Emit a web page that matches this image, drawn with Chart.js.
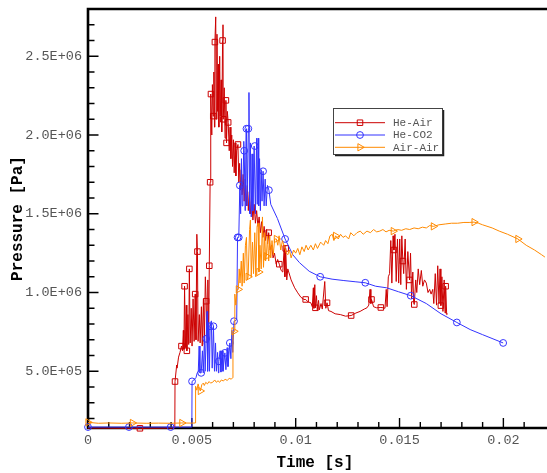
<!DOCTYPE html>
<html>
<head>
<meta charset="utf-8">
<title>Pressure history</title>
<script src="https://cdn.jsdelivr.net/npm/chart.js@4.4.1/dist/chart.umd.min.js"></script>
<style>
  html, body { margin: 0; padding: 0; background: #fff; }
  #wrap { width: 547px; height: 473px; position: relative; }
</style>
</head>
<body>
<div id="wrap"><canvas id="chart"></canvas></div>
<script>
// Pressure probe histories, [time s, pressure Pa]
const heAirPoints = [
  [0, 1.40e5], [0.00250, 1.38e5], [0.00418, 1.40e5], [0.00419, 4.35e5], [0.00427, 5.4e5],
  [0.00429, 5.2e5], [0.00436, 5.9e5], [0.00443, 6.2e5], [0.00450, 6.6e5], [0.00455, 6.3e5],
  [0.00459, 7.6e5], [0.00462, 6.4e5], [0.00465, 1.04e6], [0.00469, 6.5e5], [0.00473, 9.2e5],
  [0.00476, 6.3e5], [0.00481, 8.6e5], [0.00485, 6.7e5], [0.00488, 1.15e6], [0.00492, 6.8e5],
  [0.00497, 9.0e5], [0.00501, 6.6e5], [0.00506, 9.6e5], [0.00511, 6.9e5], [0.00516, 9.9e5],
  [0.00520, 7.0e5], [0.00524, 1.37e6], [0.00527, 1.26e6], [0.00530, 6.9e5], [0.00536, 8.6e5],
  [0.00540, 6.8e5], [0.00546, 9.1e5], [0.00550, 6.6e5], [0.00556, 9.6e5], [0.00560, 6.7e5],
  [0.00565, 1.10e6], [0.00569, 9.45e5], [0.00573, 6.8e5], [0.00577, 1.08e6], [0.00581, 7.0e5],
  [0.00584, 1.17e6], [0.00588, 1.70e6], [0.00590, 2.05e6], [0.00592, 2.26e6], [0.00596, 2.00e6],
  [0.00599, 2.32e6], [0.00603, 2.12e6], [0.00606, 2.40e6], [0.00609, 2.05e6], [0.00611, 2.59e6],
  [0.00615, 2.75e6], [0.00618, 2.10e6], [0.00621, 2.64e6], [0.00624, 2.15e6], [0.00627, 2.45e6],
  [0.00630, 2.05e6], [0.00634, 2.50e6], [0.00637, 2.12e6], [0.00641, 2.35e6], [0.00644, 2.02e6],
  [0.00648, 2.60e6], [0.00650, 2.70e6], [0.00651, 2.10e6], [0.00656, 2.30e6], [0.00660, 1.98e6],
  [0.00664, 2.22e6], [0.00667, 1.95e6], [0.00671, 2.15e6], [0.00675, 2.08e6], [0.00680, 1.90e6],
  [0.00684, 2.05e6], [0.00688, 1.85e6], [0.00692, 2.00e6], [0.00696, 1.80e6], [0.00700, 1.97e6],
  [0.00704, 1.76e6], [0.00708, 1.95e6], [0.00712, 1.74e6], [0.00716, 1.90e6], [0.00722, 1.94e6],
  [0.00726, 1.70e6], [0.00730, 1.82e6], [0.00734, 1.65e6], [0.00738, 1.78e6], [0.00742, 1.62e6],
  [0.00747, 1.75e6], [0.00752, 1.58e6], [0.00757, 1.72e6], [0.00762, 1.55e6], [0.00767, 1.68e6],
  [0.00772, 1.52e6], [0.00777, 1.64e6], [0.00782, 1.50e6], [0.00788, 1.60e6], [0.00794, 1.46e6],
  [0.00800, 1.56e6], [0.00806, 1.44e6], [0.00812, 1.52e6], [0.00818, 1.42e6], [0.00824, 1.48e6],
  [0.00830, 1.38e6], [0.00836, 1.45e6], [0.00842, 1.35e6], [0.00848, 1.42e6], [0.00854, 1.33e6],
  [0.00860, 1.40e6], [0.00865, 1.31e6], [0.00870, 1.38e6], [0.00877, 1.27e6], [0.00884, 1.30e6],
  [0.00891, 1.22e6], [0.00898, 1.25e6], [0.00906, 1.18e6], [0.00913, 1.21e6], [0.00921, 1.18e6],
  [0.00930, 1.14e6], [0.00938, 1.13e6], [0.00945, 1.30e6], [0.00948, 1.10e6], [0.00952, 1.28e6],
  [0.00957, 1.08e6], [0.00962, 1.15e6], [0.00978, 1.08e6], [0.00995, 1.03e6], [0.01010, 9.98e5],
  [0.01025, 9.70e5], [0.01040, 9.56e5], [0.01048, 9.56e5], [0.01060, 9.40e5], [0.01073, 9.35e5],
  [0.01080, 9.10e5], [0.01085, 1.03e6], [0.01088, 9.00e5], [0.01092, 1.05e6], [0.01095, 9.03e5],
  [0.01100, 9.80e5], [0.01104, 8.90e5], [0.01110, 9.50e5], [0.01114, 8.90e5], [0.01122, 9.30e5],
  [0.01128, 8.95e5], [0.01140, 1.07e6], [0.01145, 9.00e5], [0.01151, 9.35e5], [0.01158, 8.85e5],
  [0.01170, 8.80e5], [0.01190, 8.65e5], [0.01215, 8.60e5], [0.01240, 8.50e5], [0.01267, 8.54e5],
  [0.01290, 8.70e5], [0.01310, 8.80e5], [0.01330, 8.95e5], [0.01343, 9.03e5], [0.01352, 9.20e5],
  [0.01358, 1.02e6], [0.01362, 9.30e5], [0.01365, 9.56e5], [0.01375, 9.10e5], [0.01390, 9.03e5],
  [0.01410, 9.05e5], [0.01422, 9.03e5], [0.01430, 9.00e5], [0.01436, 1.02e6], [0.01440, 9.10e5],
  [0.01446, 1.10e6], [0.01452, 1.12e6], [0.01458, 1.33e6], [0.01463, 1.06e6], [0.01469, 1.36e6],
  [0.01473, 1.27e6], [0.01478, 1.37e6], [0.01484, 1.07e6], [0.01490, 1.34e6], [0.01496, 1.06e6],
  [0.01501, 1.34e6], [0.01506, 1.05e6], [0.01511, 1.36e6], [0.01516, 1.20e6], [0.01520, 1.12e6],
  [0.01527, 1.34e6], [0.01533, 1.02e6], [0.01540, 1.26e6], [0.01548, 1.08e6], [0.01553, 1.25e6],
  [0.01558, 9.6e5], [0.01564, 1.13e6], [0.01568, 9.35e5], [0.01571, 9.24e5], [0.01578, 1.08e6],
  [0.01583, 1.00e6], [0.01590, 1.15e6], [0.01597, 1.05e6], [0.01605, 1.14e6], [0.01612, 1.04e6],
  [0.01620, 1.08e6], [0.01629, 1.06e6], [0.01637, 1.00e6], [0.01645, 1.02e6], [0.01652, 9.9e5],
  [0.01660, 1.02e6], [0.01665, 9.3e5], [0.01672, 1.12e6], [0.01678, 9.2e5], [0.01684, 1.17e6],
  [0.01690, 9.3e5], [0.01695, 1.15e6], [0.01699, 9.17e5], [0.01704, 1.10e6], [0.01709, 8.8e5],
  [0.01715, 1.08e6], [0.01719, 8.7e5], [0.01722, 1.04e6], [0.01727, 8.6e5], [0.01732, 8.65e5]
];
const heAirMarks = [
  [0.00250, 1.38e5], [0.00419, 4.35e5], [0.00450, 6.6e5], [0.00465, 1.04e6], [0.00476, 6.3e5],
  [0.00488, 1.15e6], [0.00516, 9.9e5], [0.00527, 1.26e6], [0.00569, 9.45e5], [0.00584, 1.17e6],
  [0.00588, 1.70e6], [0.00592, 2.26e6], [0.00603, 2.12e6], [0.00611, 2.59e6], [0.00648, 2.60e6],
  [0.00651, 2.10e6], [0.00664, 2.22e6], [0.00667, 1.95e6], [0.00675, 2.08e6], [0.00722, 1.94e6],
  [0.00870, 1.38e6], [0.00921, 1.18e6], [0.00952, 1.28e6], [0.01048, 9.56e5], [0.01095, 9.03e5],
  [0.01151, 9.35e5], [0.01267, 8.54e5], [0.01365, 9.56e5], [0.01410, 9.05e5], [0.01473, 1.27e6],
  [0.01516, 1.20e6], [0.01548, 1.08e6], [0.01571, 9.24e5], [0.01699, 9.17e5], [0.01722, 1.04e6]
];

const heCo2Points = [
  [0, 1.46e5], [0.00197, 1.46e5], [0.00398, 1.46e5], [0.00500, 1.46e5], [0.00501, 4.36e5],
  [0.00510, 4.45e5], [0.00520, 4.6e5], [0.00526, 4.9e5], [0.00531, 5.0e5], [0.00535, 6.6e5],
  [0.00539, 4.9e5], [0.00545, 4.9e5], [0.00551, 6.3e5], [0.00555, 4.9e5], [0.00561, 7.2e5],
  [0.00564, 5.0e5], [0.00569, 7.06e5], [0.00573, 8.8e5], [0.00576, 5.0e5], [0.00581, 8.1e5],
  [0.00585, 5.0e5], [0.00588, 7.86e5], [0.00594, 8.2e5], [0.00598, 5.2e5], [0.00604, 7.86e5],
  [0.00609, 5.0e5], [0.00614, 6.8e5], [0.00618, 5.0e5], [0.00624, 6.2e5], [0.00628, 4.9e5],
  [0.00630, 5.63e5], [0.00636, 6.3e5], [0.00640, 4.95e5], [0.00646, 6.3e5], [0.00650, 5.0e5],
  [0.00659, 6.17e5], [0.00664, 5.1e5], [0.00670, 6.5e5], [0.00674, 5.3e5], [0.00683, 6.8e5],
  [0.00688, 5.8e5], [0.00693, 7.6e5], [0.00697, 6.2e5], [0.00703, 8.18e5], [0.00708, 8.2e5],
  [0.00716, 8.3e5], [0.00720, 1.35e6], [0.00726, 1.35e6], [0.00731, 1.68e6], [0.00735, 1.50e6],
  [0.00739, 1.85e6], [0.00742, 1.55e6], [0.00746, 1.62e6], [0.00750, 1.96e6], [0.00752, 1.90e6],
  [0.00757, 1.52e6], [0.00761, 2.02e6], [0.00763, 2.04e6], [0.00766, 1.55e6], [0.00772, 2.04e6],
  [0.00775, 2.27e6], [0.00778, 1.50e6], [0.00782, 1.95e6], [0.00786, 1.48e6], [0.00790, 1.88e6],
  [0.00794, 1.52e6], [0.00800, 1.93e6], [0.00803, 1.93e6], [0.00806, 1.50e6], [0.00812, 1.98e6],
  [0.00815, 1.56e6], [0.00819, 1.98e6], [0.00822, 1.55e6], [0.00826, 1.85e6], [0.00830, 1.52e6],
  [0.00834, 1.78e6], [0.00838, 1.58e6], [0.00843, 1.77e6], [0.00848, 1.55e6], [0.00853, 1.72e6],
  [0.00858, 1.55e6], [0.00864, 1.68e6], [0.00871, 1.65e6], [0.00880, 1.56e6], [0.00912, 1.47e6],
  [0.00949, 1.34e6], [0.00986, 1.24e6], [0.01018, 1.19e6], [0.01065, 1.135e6], [0.01118, 1.10e6],
  [0.01175, 1.085e6], [0.01232, 1.076e6], [0.01290, 1.068e6], [0.01335, 1.062e6], [0.01385, 1.04e6],
  [0.01438, 1.03e6], [0.01495, 1.005e6], [0.01554, 9.8e5], [0.01629, 9.3e5], [0.01700, 8.65e5],
  [0.01776, 8.1e5], [0.01840, 7.65e5], [0.01899, 7.33e5], [0.01999, 6.8e5]
];
const heCo2Marks = [
  [0, 1.46e5], [0.00197, 1.46e5], [0.00398, 1.46e5], [0.00501, 4.36e5], [0.00545, 4.9e5],
  [0.00569, 7.06e5], [0.00588, 7.86e5], [0.00604, 7.86e5], [0.00630, 5.63e5], [0.00659, 6.17e5],
  [0.00683, 6.8e5], [0.00703, 8.18e5], [0.00720, 1.35e6], [0.00726, 1.35e6], [0.00731, 1.68e6],
  [0.00752, 1.90e6], [0.00763, 2.04e6], [0.00772, 2.04e6], [0.00803, 1.93e6], [0.00843, 1.77e6],
  [0.00871, 1.65e6], [0.00949, 1.34e6], [0.01118, 1.10e6], [0.01335, 1.062e6], [0.01554, 9.8e5],
  [0.01776, 8.1e5], [0.01999, 6.8e5]
];

const airAirPoints = [
  [0, 1.76e5], [0.0005, 1.70e5], [0.0010, 1.72e5], [0.0016, 1.70e5], [0.00214, 1.72e5],
  [0.0028, 1.70e5], [0.0034, 1.71e5], [0.0040, 1.70e5], [0.00452, 1.72e5], [0.0050, 1.71e5],
  [0.00517, 1.72e5], [0.00518, 4.05e5], [0.00524, 3.8e5], [0.00530, 4.2e5], [0.00536, 3.9e5],
  [0.00541, 3.75e5], [0.00548, 4.15e5], [0.00555, 4.25e5], [0.00560, 4.1e5], [0.00567, 4.3e5],
  [0.00575, 4.2e5], [0.00583, 4.35e5], [0.00590, 4.25e5], [0.00600, 4.3e5], [0.00610, 4.45e5],
  [0.00618, 4.3e5], [0.00626, 4.4e5], [0.00634, 4.3e5], [0.00642, 4.45e5], [0.00652, 4.38e5],
  [0.00660, 4.5e5], [0.00670, 4.42e5], [0.00680, 4.55e5], [0.00690, 4.5e5], [0.00697, 4.6e5],
  [0.00698, 7.5e5], [0.00703, 7.54e5], [0.00707, 9.9e5], [0.00712, 9.2e5], [0.00718, 1.02e6],
  [0.00724, 1.02e6], [0.00728, 1.15e6], [0.00732, 1.06e6], [0.00738, 1.20e6], [0.00742, 1.04e6],
  [0.00748, 1.25e6], [0.00752, 1.06e6], [0.00758, 1.30e6], [0.00763, 1.35e6], [0.00767, 1.08e6],
  [0.00771, 1.10e6], [0.00778, 1.40e6], [0.00782, 1.46e6], [0.00786, 1.10e6], [0.00792, 1.32e6],
  [0.00797, 1.12e6], [0.00803, 1.38e6], [0.00808, 1.10e6], [0.00814, 1.42e6], [0.00819, 1.44e6],
  [0.00823, 1.13e6], [0.00828, 1.30e6], [0.00834, 1.15e6], [0.00840, 1.48e6], [0.00845, 1.16e6],
  [0.00851, 1.38e6], [0.00855, 1.20e6], [0.00859, 1.23e6], [0.00864, 1.36e6], [0.00870, 1.20e6],
  [0.00875, 1.36e6], [0.00880, 1.22e6], [0.00886, 1.33e6], [0.00892, 1.24e6], [0.00899, 1.34e6],
  [0.00907, 1.34e6], [0.00914, 1.30e6], [0.00920, 1.36e6], [0.00928, 1.27e6], [0.00936, 1.33e6],
  [0.00946, 1.29e6], [0.00955, 1.25e6], [0.00962, 1.24e6], [0.00970, 1.27e6], [0.00978, 1.22e6],
  [0.00990, 1.27e6], [0.01000, 1.25e6], [0.01010, 1.28e6], [0.01020, 1.24e6], [0.01030, 1.29e6],
  [0.01041, 1.26e6], [0.01050, 1.30e6], [0.01060, 1.27e6], [0.01073, 1.30e6], [0.01085, 1.27e6],
  [0.01095, 1.31e6], [0.01105, 1.28e6], [0.01120, 1.32e6], [0.01135, 1.30e6], [0.01144, 1.33e6],
  [0.01155, 1.31e6], [0.01165, 1.36e6], [0.01176, 1.37e6], [0.01184, 1.33e6], [0.01192, 1.36e6],
  [0.01205, 1.34e6], [0.01216, 1.37e6], [0.01228, 1.35e6], [0.01240, 1.36e6], [0.01255, 1.34e6],
  [0.01265, 1.38e6], [0.01280, 1.36e6], [0.01295, 1.38e6], [0.01311, 1.39e6], [0.01325, 1.37e6],
  [0.01343, 1.39e6], [0.01360, 1.38e6], [0.01375, 1.40e6], [0.01390, 1.385e6], [0.01405, 1.39e6],
  [0.01420, 1.40e6], [0.01435, 1.385e6], [0.01450, 1.395e6], [0.01470, 1.39e6], [0.01490, 1.40e6],
  [0.01510, 1.395e6], [0.01530, 1.405e6], [0.01549, 1.40e6], [0.01570, 1.41e6], [0.01590, 1.405e6],
  [0.01610, 1.415e6], [0.01629, 1.41e6], [0.01645, 1.425e6], [0.01663, 1.42e6], [0.01690, 1.43e6],
  [0.01720, 1.435e6], [0.01750, 1.44e6], [0.01780, 1.44e6], [0.01810, 1.445e6], [0.01835, 1.445e6],
  [0.01859, 1.447e6], [0.01880, 1.44e6], [0.01900, 1.43e6], [0.01946, 1.41e6], [0.01980, 1.39e6],
  [0.02020, 1.37e6], [0.02070, 1.34e6], [0.02110, 1.30e6], [0.02150, 1.27e6], [0.02184, 1.24e6],
  [0.02200, 1.225e6]
];
const airAirMarks = [
  [0, 1.76e5], [0.00214, 1.72e5], [0.00452, 1.72e5], [0.00541, 3.75e5], [0.00703, 7.54e5],
  [0.00724, 1.02e6], [0.00771, 1.10e6], [0.00823, 1.13e6], [0.00859, 1.23e6], [0.00907, 1.34e6],
  [0.01192, 1.36e6], [0.01470, 1.39e6], [0.01663, 1.42e6], [0.01859, 1.447e6], [0.02070, 1.34e6]
];

const seriesNames = ['He-Air', 'He-CO2', 'Air-Air'];
const xTickValues = [0, 0.005, 0.01, 0.015, 0.02];
const yTickValues = [5e5, 1e6, 1.5e6, 2e6, 2.5e6];

const MONO = "'Courier New', 'Liberation Mono', monospace";
const RED = '#cc0000';
const BLUE = '#3333ff';
const ORANGE = '#ff8a00';
const LABEL_GREY = '#555555';

// 5.0E+05 style labels
function sciLabel(v) {
  const [m, e] = Number(v).toExponential(1).split('e');
  const n = parseInt(e, 10);
  return m + 'E' + (n < 0 ? '-' : '+') + String(Math.abs(n)).padStart(2, '0');
}

const toXY = pts => pts.map(([t, p]) => ({ x: t, y: p }));

function lineSet(label, pts, color, order) {
  return {
    label, data: toXY(pts), showLine: true, borderColor: color, backgroundColor: color,
    borderWidth: 1, pointRadius: 0, tension: 0, clip: false, order
  };
}

function markSet(label, pts, color, style, radius, rotation, order) {
  return {
    label, data: toXY(pts), showLine: false, pointStyle: style, pointRadius: radius,
    rotation, borderColor: color, backgroundColor: 'rgba(0,0,0,0)', borderWidth: 1,
    clip: false, order
  };
}

const markerStyles = [
  { color: RED, style: 'rect', radius: 3.9, rotation: 0 },
  { color: BLUE, style: 'circle', radius: 3.4, rotation: 0 },
  { color: ORANGE, style: 'triangle', radius: 4.2, rotation: 90 }
];

// Axis frame with inward major and minor ticks
const framePlugin = {
  id: 'frame',
  beforeDatasetsDraw(chart) {
    const { ctx, chartArea: a, scales: { x, y } } = chart;
    ctx.save();
    ctx.strokeStyle = '#000';
    ctx.lineWidth = 1.4;
    ctx.beginPath();
    for (let k = 2; k <= 27; k++) {
      const py = y.getPixelForValue(k * 1e5);
      const len = k % 5 === 0 ? 10.5 : 6.5;
      ctx.moveTo(a.left, py);
      ctx.lineTo(a.left + len, py);
    }
    for (let k = 1; k <= 21; k++) {
      const px = x.getPixelForValue(k / 1000);
      const len = k % 5 === 0 ? 10 : 6;
      ctx.moveTo(px, a.bottom);
      ctx.lineTo(px, a.bottom - len);
    }
    ctx.stroke();

    ctx.lineWidth = 2.6;
    ctx.beginPath();
    ctx.moveTo(chart.width, a.top);
    ctx.lineTo(a.left, a.top);
    ctx.lineTo(a.left, a.bottom);
    ctx.lineTo(chart.width, a.bottom);
    ctx.stroke();
    ctx.restore();
  }
};

// Boxed legend with line + symbol samples
const legendBoxPlugin = {
  id: 'legendBox',
  afterDraw(chart) {
    const { ctx } = chart;
    const lx = 333, ly = 108, lw = 109, lh = 46;
    ctx.save();
    ctx.fillStyle = '#fff';
    ctx.fillRect(lx, ly, lw, lh);
    ctx.strokeStyle = '#444';
    ctx.lineWidth = 1;
    ctx.strokeRect(lx + 0.5, ly + 0.5, lw, lh);
    ctx.strokeStyle = '#222';
    ctx.lineWidth = 1.5;
    ctx.beginPath();
    ctx.moveTo(lx + lw + 1.5, ly + 2);
    ctx.lineTo(lx + lw + 1.5, ly + lh + 1.5);
    ctx.lineTo(lx + 2, ly + lh + 1.5);
    ctx.stroke();

    seriesNames.forEach((name, i) => {
      const m = markerStyles[i];
      const cy = ly + 14.7 + i * 12.3;
      ctx.strokeStyle = m.color;
      ctx.lineWidth = 1;
      ctx.beginPath();
      ctx.moveTo(lx + 2, cy);
      ctx.lineTo(lx + 52, cy);
      ctx.stroke();
      ctx.fillStyle = 'rgba(0,0,0,0)';
      Chart.helpers.drawPoint(ctx, {
        pointStyle: m.style, radius: m.radius, rotation: m.rotation, borderWidth: 1
      }, lx + 27, cy);
      ctx.fillStyle = LABEL_GREY;
      ctx.font = '11px ' + MONO;
      ctx.textBaseline = 'middle';
      ctx.textAlign = 'left';
      ctx.fillText(name, lx + 60, cy + 0.5);
    });
    ctx.restore();
  }
};

const seriesPoints = [heAirPoints, heCo2Points, airAirPoints];
const seriesMarks = [heAirMarks, heCo2Marks, airAirMarks];
const datasets = [];
seriesNames.forEach((name, i) => {
  const m = markerStyles[i];
  const order = 3 - i;
  datasets.push(lineSet(name, seriesPoints[i], m.color, order));
  datasets.push(markSet(name, seriesMarks[i], m.color, m.style, m.radius, m.rotation, order));
});

new Chart(document.getElementById('chart'), {
  type: 'scatter',
  data: { datasets },
  options: {
    responsive: true,
    maintainAspectRatio: false,
    animation: false,
    events: [],
    layout: { padding: { top: 9, right: 0, bottom: 0, left: 0 } },
    plugins: { legend: { display: false }, tooltip: { enabled: false } },
    scales: {
      x: {
        type: 'linear',
        min: 0,
        max: 0.02185,
        afterBuildTicks: s => { s.ticks = xTickValues.map(v => ({ value: v })); },
        afterFit: s => { s.height = 45; s.paddingLeft = 0; s.paddingRight = 0; },
        grid: { display: false, drawTicks: false },
        border: { display: false },
        ticks: {
          color: LABEL_GREY, padding: 4, maxRotation: 0, autoSkip: false,
          font: { family: MONO, size: 13.5 },
          callback: v => String(v)
        },
        title: {
          display: true, text: 'Time [s]', color: '#000',
          font: { family: MONO, size: 16, weight: 'bold' },
          padding: { top: 0, bottom: 0 }
        }
      },
      y: {
        type: 'linear',
        min: 1.4e5,
        max: 2.8e6,
        afterBuildTicks: s => { s.ticks = yTickValues.map(v => ({ value: v })); },
        afterFit: s => { s.width = 88; s.paddingTop = 0; s.paddingBottom = 0; },
        grid: { display: false, drawTicks: false },
        border: { display: false },
        ticks: {
          color: LABEL_GREY, padding: 6, autoSkip: false,
          font: { family: MONO, size: 13.5 },
          callback: v => sciLabel(v)
        },
        title: {
          display: true, text: 'Pressure [Pa]', color: '#000',
          font: { family: MONO, size: 16, weight: 'bold' },
          padding: { top: 8, bottom: 0 }
        }
      }
    }
  },
  plugins: [framePlugin, legendBoxPlugin]
});
</script>
</body>
</html>
